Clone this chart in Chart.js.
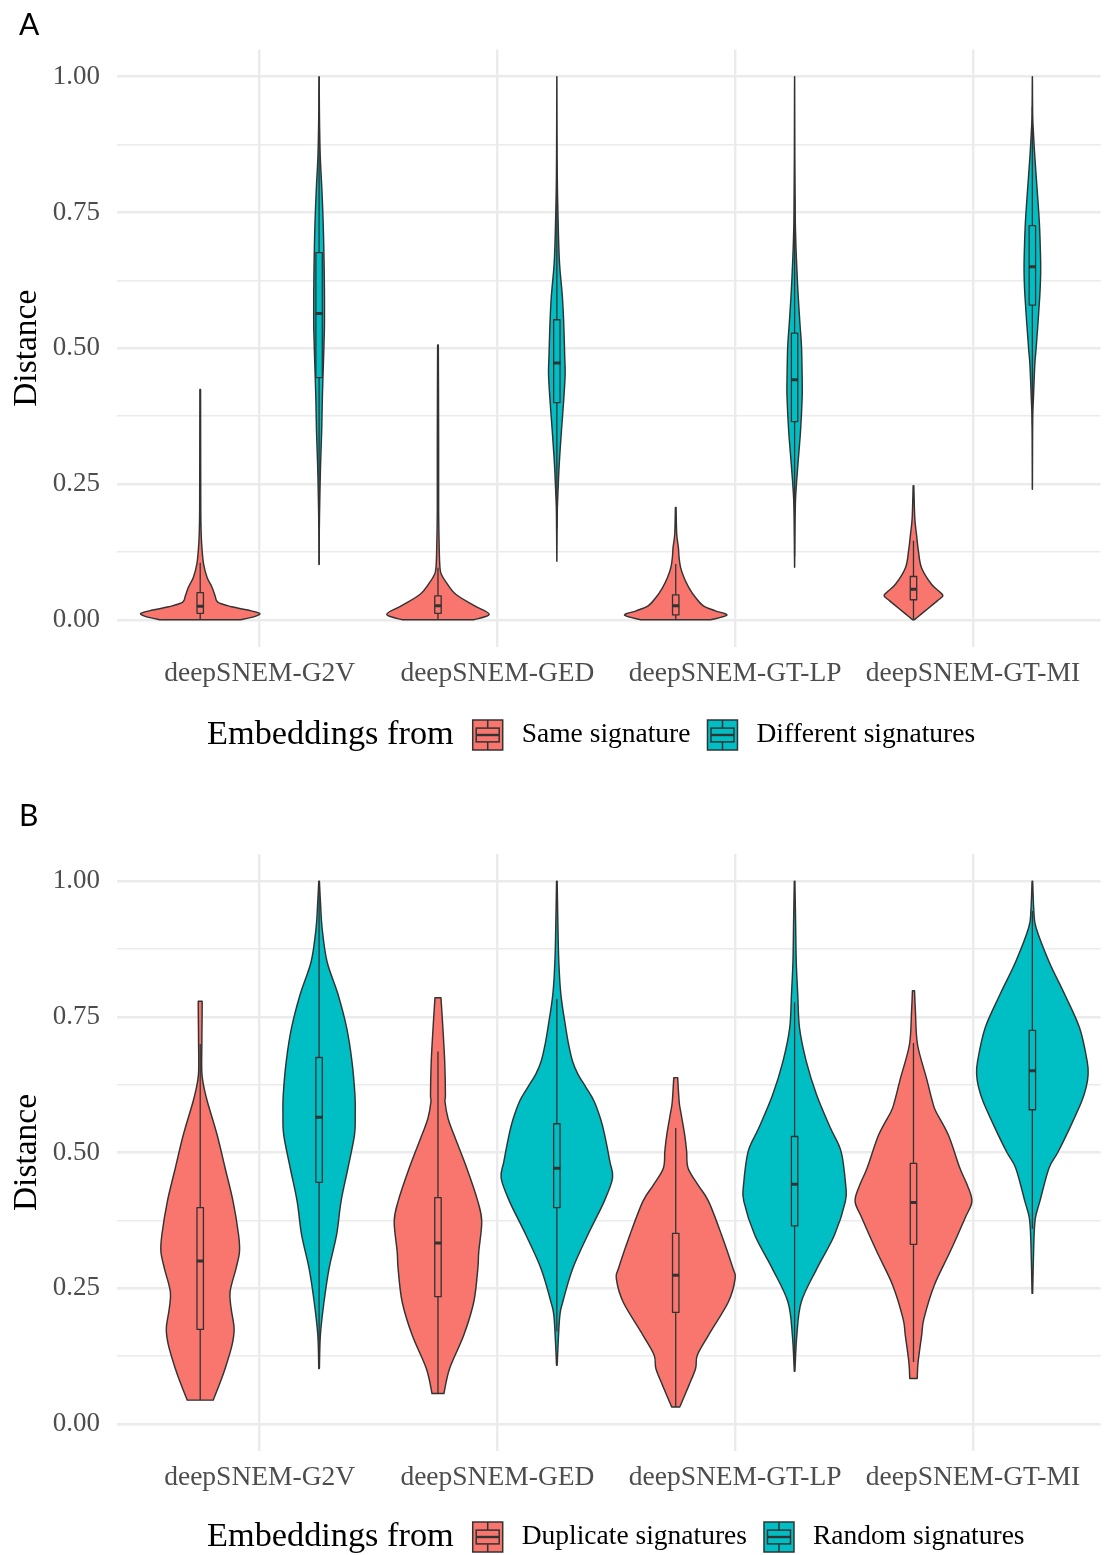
<!DOCTYPE html>
<html>
<head>
<meta charset="utf-8">
<script src="https://cdn.jsdelivr.net/npm/chart.js@4.4.1/dist/chart.umd.min.js"></script>
<style>
html,body{margin:0;padding:0;background:#ffffff;overflow:hidden;}
canvas{display:block;}
</style>
</head>
<body>
<canvas id="chartA" width="1107" height="800"></canvas>
<canvas id="chartB" width="1107" height="755"></canvas>
<script>
// ---------------- DATA ----------------
const categories = ['deepSNEM-G2V', 'deepSNEM-GED', 'deepSNEM-GT-LP', 'deepSNEM-GT-MI'];
const majorTicks = [0, 0.25, 0.5, 0.75, 1];
const majorTickLabels = ['0.00', '0.25', '0.50', '0.75', '1.00'];
const minorTicks = [0.125, 0.375, 0.625, 0.875];
const yTitle = 'Distance';
const legendTitle = 'Embeddings from';
const panelLetters = ['A', 'B'];
const seriesNamesA = ['Same signature', 'Different signatures'];
const seriesNamesB = ['Duplicate signatures', 'Random signatures'];
const seriesColors = ['#F8766D', '#00BFC4'];

// Violin density profiles: [distance, density]
// Panel A - same signature
const densSameG2V = [[0.000,17.8],[0.006,24.4],[0.012,26.7],[0.018,21.3],[0.024,14.2],[0.032,8.0],[0.044,6.7],[0.060,5.3],[0.078,3.1],[0.103,1.5],[0.133,0.76],[0.158,0.44],[0.20,0.25],[0.30,0.2],[0.424,0.15]];
const densSameGED = [[0.000,16.0],[0.010,23.0],[0.026,16.3],[0.047,8.0],[0.069,3.7],[0.084,1.5],[0.096,0.9],[0.127,0.58],[0.20,0.3],[0.30,0.3],[0.40,0.25],[0.506,0.15]];
const densSameGTLP = [[0.000,15.6],[0.0086,23.0],[0.0166,17.8],[0.0258,12.4],[0.041,8.9],[0.0595,5.9],[0.078,3.7],[0.096,2.2],[0.115,1.5],[0.133,1.2],[0.158,0.44],[0.207,0.15]];
const densSameGTMI = [[0.000,0.3],[0.011,3.6],[0.0227,7.1],[0.035,10.7],[0.044,13.2],[0.052,11.6],[0.066,8.0],[0.096,3.6],[0.127,2.2],[0.158,1.33],[0.188,0.58],[0.2468,0.15]];
// Different / random signatures (same pairs in both panels)
const densRandG2V = [[0.102,0.02],[0.1636,0.087],[0.225,0.33],[0.2866,0.67],[0.348,1.17],[0.41,1.47],[0.471,1.93],[0.5326,2.37],[0.5695,2.42],[0.606,2.4],[0.668,2.2],[0.729,1.85],[0.791,1.27],[0.852,0.53],[0.914,0.2],[0.957,0.1],[1.0,0.02]];
const densRandGED = [[0.108,0.02],[0.194,0.18],[0.225,0.4],[0.2866,1.07],[0.348,2.07],[0.41,3.17],[0.453,3.73],[0.4834,3.55],[0.5326,3.2],[0.56,2.95],[0.594,2.5],[0.62,1.95],[0.645,1.4],[0.668,1.05],[0.70,0.78],[0.729,0.6],[0.791,0.27],[0.852,0.13],[0.92,0.07],[1.0,0.02]];
const densRandGTLP = [[0.097,0.02],[0.1636,0.15],[0.225,0.45],[0.2866,1.5],[0.348,2.67],[0.41,3.4],[0.44,3.42],[0.502,3.11],[0.545,2.4],[0.6065,1.47],[0.668,0.78],[0.729,0.33],[0.791,0.21],[0.852,0.11],[0.92,0.07],[1.0,0.02]];
const densRandGTMI = [[0.2404,0.02],[0.336,0.1],[0.379,0.2],[0.41,0.5],[0.471,1.11],[0.50,1.7],[0.545,2.5],[0.594,3.3],[0.62,3.6],[0.643,3.73],[0.668,3.67],[0.729,3.17],[0.791,2.17],[0.852,1.11],[0.914,0.25],[0.945,0.1],[1.0,0.02]];
// Panel B - duplicate signatures
const densDupG2V = [[0.0437,0.87],[0.0714,1.27],[0.102,1.67],[0.145,2.13],[0.1758,2.27],[0.2127,2.07],[0.2435,2.0],[0.2866,2.4],[0.317,2.63],[0.348,2.57],[0.41,2.2],[0.471,1.67],[0.5326,1.13],[0.60,0.42],[0.643,0.12],[0.70,0.11],[0.76,0.13],[0.7786,0.13]];
const densDupGED = [[0.056,0.4],[0.102,0.78],[0.1636,1.73],[0.225,2.4],[0.2866,2.67],[0.317,2.73],[0.3727,2.93],[0.41,2.67],[0.471,1.93],[0.5326,1.07],[0.563,0.67],[0.594,0.47],[0.6065,0.5],[0.668,0.45],[0.729,0.33],[0.785,0.2]];
const densDupGTLP = [[0.031,0.27],[0.0714,0.89],[0.102,1.33],[0.1268,1.45],[0.1636,2.2],[0.225,3.53],[0.268,3.98],[0.2866,3.83],[0.348,3.07],[0.41,2.2],[0.44,1.5],[0.471,0.83],[0.502,0.73],[0.5326,0.6],[0.5756,0.33],[0.594,0.23],[0.638,0.13]];
const densDupGTMI = [[0.0836,0.25],[0.114,0.31],[0.1636,0.55],[0.194,0.7],[0.256,1.4],[0.317,2.45],[0.379,3.45],[0.41,3.91],[0.44,3.6],[0.471,3.11],[0.5326,2.33],[0.5756,1.5],[0.594,1.27],[0.637,0.87],[0.699,0.27],[0.76,0.13],[0.798,0.07]];

// Box-plot statistics per category
const sameLo  = [0, 0, 0, 0];
const sameQ1  = [0.012, 0.012, 0.009, 0.037];
const sameMed = [0.025, 0.026, 0.026, 0.0565];
const sameQ3  = [0.050, 0.044, 0.046, 0.0798];
const sameHi  = [0.105, 0.096, 0.1026, 0.1455];

const diffLo  = [0.102, 0.17, 0.117, 0.359];
const diffQ1  = [0.446, 0.400, 0.365, 0.5795];
const diffMed = [0.564, 0.473, 0.442, 0.650];
const diffQ3  = [0.676, 0.5525, 0.528, 0.7256];
const diffHi  = [1.0, 0.783, 0.777, 0.945];

const dupLo  = [0.0437, 0.056, 0.031, 0.114];
const dupQ1  = [0.174, 0.2343, 0.2053, 0.3308];
const dupMed = [0.300, 0.3334, 0.274, 0.4077];
const dupQ3  = [0.3985, 0.417, 0.351, 0.480];
const dupHi  = [0.70, 0.686, 0.545, 0.7017];

const randLo  = [0.102, 0.17, 0.117, 0.359];
const randQ1  = [0.445, 0.3985, 0.3647, 0.5788];
const randMed = [0.565, 0.471, 0.4415, 0.6507];
const randQ3  = [0.675, 0.553, 0.5295, 0.725];
const randHi  = [1.0, 0.783, 0.777, 0.945];

// ---------------- STYLE ----------------
const DODGE = [-0.25, 0.25];
const VIOLIN_HALF = 0.25;
const BOX_HALF = 0.0135;
const OUTLINE = '#333333';
const SERIF = '"Liberation Serif", "Times New Roman", serif';
const GRID = '#EBEBEB';

function splineSide(ctx, pts, cx, sideSign) {
  for (let i = 0; i < pts.length - 1; i++) {
    const p0 = pts[Math.max(i - 1, 0)], p1 = pts[i], p2 = pts[i + 1], p3 = pts[Math.min(i + 2, pts.length - 1)];
    let c1x = p1[0] + (p2[0] - p0[0]) / 6, c1y = p1[1] + (p2[1] - p0[1]) / 6;
    let c2x = p2[0] - (p3[0] - p1[0]) / 6, c2y = p2[1] - (p3[1] - p1[1]) / 6;
    if (sideSign < 0) { c1x = Math.min(c1x, cx); c2x = Math.min(c2x, cx); }
    else { c1x = Math.max(c1x, cx); c2x = Math.max(c2x, cx); }
    ctx.bezierCurveTo(c1x, c1y, c2x, c2y, p2[0], p2[1]);
  }
}

function drawKey(ctx, x0, y0, s, color) {
  ctx.save();
  ctx.fillStyle = color;
  ctx.fillRect(x0, y0, s, s);
  ctx.strokeStyle = OUTLINE;
  ctx.lineWidth = 1.5;
  ctx.strokeRect(x0, y0, s, s);
  const cx = x0 + s / 2;
  ctx.beginPath();
  ctx.moveTo(cx, y0); ctx.lineTo(cx, y0 + s * 0.27);
  ctx.moveTo(cx, y0 + s * 0.73); ctx.lineTo(cx, y0 + s);
  ctx.stroke();
  ctx.strokeRect(x0 + 3.5, y0 + s * 0.27, s - 7, s * 0.46);
  ctx.lineWidth = 2.4;
  ctx.beginPath(); ctx.moveTo(x0 + 3.5, y0 + s / 2); ctx.lineTo(x0 + s - 3.5, y0 + s / 2); ctx.stroke();
  ctx.restore();
}

function buildPanel(canvasId, spec) {
  const groups = spec.groups;
  let maxD = 0;
  groups.forEach(g => g.dens.forEach(p => p.forEach(q => { if (q[1] > maxD) maxD = q[1]; })));

  const violinPlugin = {
    id: 'violins_' + canvasId,
    beforeDatasetsDraw(chart) {
      const ctx = chart.ctx, xs = chart.scales.x, ys = chart.scales.y;
      ctx.save();
      groups.forEach((g, gi) => {
        g.dens.forEach((prof, ci) => {
          const c = ci + 1 + DODGE[gi];
          const cxp = xs.getPixelForValue(c);
          const left = prof.map(([v, d]) => [xs.getPixelForValue(c - d / maxD * VIOLIN_HALF), ys.getPixelForValue(v)]);
          const right = prof.map(([v, d]) => [xs.getPixelForValue(c + d / maxD * VIOLIN_HALF), ys.getPixelForValue(v)]).reverse();
          ctx.beginPath();
          ctx.moveTo(left[0][0], left[0][1]);
          splineSide(ctx, left, cxp, -1);
          ctx.lineTo(right[0][0], right[0][1]);
          splineSide(ctx, right, cxp, 1);
          ctx.closePath();
          ctx.fillStyle = g.color;
          ctx.fill();
          ctx.strokeStyle = OUTLINE;
          ctx.lineWidth = 1.45;
          ctx.lineJoin = 'round';
          ctx.stroke();
          // whiskers
          ctx.lineWidth = 1.3;
          ctx.beginPath();
          ctx.moveTo(cxp, ys.getPixelForValue(g.lo[ci]));
          ctx.lineTo(cxp, ys.getPixelForValue(g.q1[ci]));
          ctx.moveTo(cxp, ys.getPixelForValue(g.q3[ci]));
          ctx.lineTo(cxp, ys.getPixelForValue(g.hi[ci]));
          ctx.stroke();
          // box
          const bx0 = xs.getPixelForValue(c - BOX_HALF), bx1 = xs.getPixelForValue(c + BOX_HALF);
          const by0 = ys.getPixelForValue(g.q3[ci]), by1 = ys.getPixelForValue(g.q1[ci]);
          ctx.fillStyle = g.color;
          ctx.fillRect(bx0, by0, bx1 - bx0, by1 - by0);
          ctx.strokeRect(bx0, by0, bx1 - bx0, by1 - by0);
        });
      });
      ctx.restore();
    }
  };

  const textPlugin = {
    id: 'texts_' + canvasId,
    afterDraw(chart) {
      const ctx = chart.ctx, ys = chart.scales.y;
      ctx.save();
      ctx.fillStyle = '#000000';
      ctx.font = '30px Lato, "DejaVu Sans", sans-serif';
      ctx.textAlign = 'left';
      ctx.textBaseline = 'alphabetic';
      ctx.fillText(spec.letter, 19, spec.letterBaseline);
      // y title
      const yc = (ys.getPixelForValue(0) + ys.getPixelForValue(1)) / 2;
      ctx.save();
      ctx.translate(27, yc);
      ctx.rotate(-Math.PI / 2);
      ctx.font = '33.5px ' + SERIF;
      ctx.textAlign = 'center';
      ctx.textBaseline = 'middle';
      ctx.fillText(yTitle, 0, 0);
      ctx.restore();
      // legend
      const ly = spec.legendY;
      let lx = 207;
      ctx.textAlign = 'left';
      ctx.textBaseline = 'middle';
      ctx.font = '34.3px ' + SERIF;
      ctx.fillText(legendTitle, lx, ly);
      lx += ctx.measureText(legendTitle).width + 19;
      groups.forEach((g, gi) => {
        drawKey(ctx, lx, ly - 15, 30, g.color);
        lx += 30 + 19;
        ctx.font = '27.5px ' + SERIF;
        ctx.fillStyle = '#000000';
        ctx.fillText(g.name, lx, ly);
        lx += ctx.measureText(g.name).width + 17;
      });
      ctx.restore();
    }
  };

  const yTickValues = majorTicks.concat(minorTicks).sort((a, b) => a - b);

  return new Chart(document.getElementById(canvasId), {
    type: 'scatter',
    data: {
      datasets: groups.map((g, gi) => ({
        label: g.name,
        data: g.med.map((m, ci) => ({ x: ci + 1 + DODGE[gi], y: m })),
        pointStyle: 'line',
        pointRadius: 3.4,
        pointBorderWidth: 3,
        pointBorderColor: OUTLINE,
        backgroundColor: g.color,
        borderColor: OUTLINE,
        pointHoverRadius: 0
      }))
    },
    options: {
      responsive: false,
      animation: false,
      events: [],
      layout: { padding: { top: spec.padTop, right: 0, bottom: 0, left: 0 } },
      plugins: { legend: { display: false }, tooltip: { enabled: false } },
      scales: {
        x: {
          type: 'linear', min: 0.4, max: 4.537,
          afterBuildTicks: s => { s.ticks = categories.map((c, i) => ({ value: i + 1 })); },
          afterFit: s => { s.height = spec.xAxisHeight; },
          ticks: {
            autoSkip: false, maxRotation: 0, minRotation: 0, padding: 10,
            color: '#4D4D4D', font: { family: SERIF, size: 27.5 },
            callback: v => categories[Math.round(v) - 1]
          },
          grid: { color: GRID, lineWidth: 2.4, drawTicks: false },
          border: { display: false }
        },
        y: {
          type: 'linear', min: -0.05, max: 1.05,
          afterBuildTicks: s => { s.ticks = yTickValues.map(v => ({ value: v })); },
          afterFit: s => { s.width = 117; },
          ticks: {
            autoSkip: false, padding: 17,
            color: '#4D4D4D', font: { family: SERIF, size: 27 },
            callback: v => { const i = majorTicks.indexOf(v); return i >= 0 ? majorTickLabels[i] : ''; }
          },
          grid: {
            color: GRID, drawTicks: false,
            lineWidth: c => (c.tick && majorTicks.indexOf(c.tick.value) >= 0) ? 2.4 : 1.4
          },
          border: { display: false }
        }
      }
    },
    plugins: [violinPlugin, textPlugin]
  });
}

buildPanel('chartA', {
  letter: panelLetters[0], letterBaseline: 35, padTop: 49.5, xAxisHeight: 153, legendY: 735,
  groups: [
    { name: seriesNamesA[0], color: seriesColors[0], dens: [densSameG2V, densSameGED, densSameGTLP, densSameGTMI],
      lo: sameLo, q1: sameQ1, med: sameMed, q3: sameQ3, hi: sameHi },
    { name: seriesNamesA[1], color: seriesColors[1], dens: [densRandG2V, densRandGED, densRandGTLP, densRandGTMI],
      lo: diffLo, q1: diffQ1, med: diffMed, q3: diffQ3, hi: diffHi }
  ]
});

buildPanel('chartB', {
  letter: panelLetters[1], letterBaseline: 26, padTop: 54, xAxisHeight: 104, legendY: 737,
  groups: [
    { name: seriesNamesB[0], color: seriesColors[0], dens: [densDupG2V, densDupGED, densDupGTLP, densDupGTMI],
      lo: dupLo, q1: dupQ1, med: dupMed, q3: dupQ3, hi: dupHi },
    { name: seriesNamesB[1], color: seriesColors[1], dens: [densRandG2V, densRandGED, densRandGTLP, densRandGTMI],
      lo: randLo, q1: randQ1, med: randMed, q3: randQ3, hi: randHi }
  ]
});
</script>
</body>
</html>
